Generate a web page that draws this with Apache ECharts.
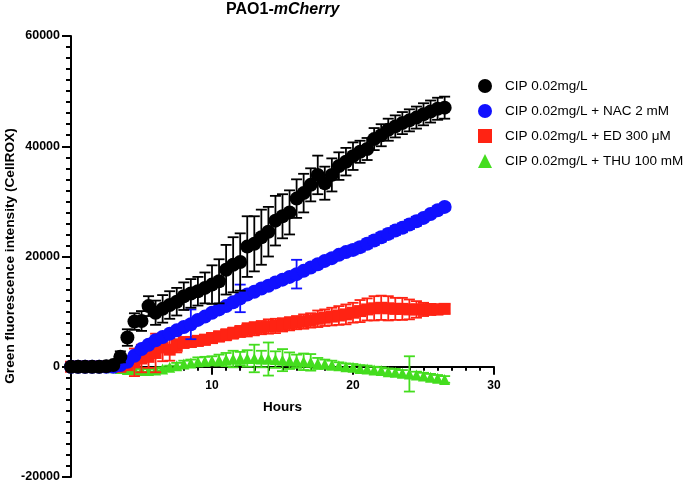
<!DOCTYPE html>
<html><head><meta charset="utf-8">
<script src="https://cdn.jsdelivr.net/npm/echarts@6/dist/echarts.min.js"></script>
<style>html,body{margin:0;padding:0;background:#fff}#c{width:685px;height:484px}</style>
</head><body><div id="c"></div>
<script>
const hours = [0,0.5,1,1.5,2,2.5,3,3.5,4,4.5,5,5.5,6,6.5,7,7.5,8,8.5,9,9.5,10,10.5,11,11.5,12,12.5,13,13.5,14,14.5,15,15.5,16,16.5,17,17.5,18,18.5,19,19.5,20,20.5,21,21.5,22,22.5,23,23.5,24,24.5,25,25.5,26,26.5];
const seriesNames = ['CIP 0.02mg/L','CIP 0.02mg/L + NAC 2 mM','CIP 0.02mg/L + ED 300 \u03bcM','CIP 0.02mg/L + THU 100 mM'];
const cip = [0,0,0,0,0,100,300,1800,5300,8200, 8300,11000,9800,10500,11200,11800,12800,13300,13700,14300, 14900,15500,17600,18500,19000,21800,22300,23500,24500,26500, 27300,28000,30500,31500,33000,34800,33300,34800,36400,37200, 38200,39000,39500,41300,42000,43000,43600,44200,44700,45200, 45800,46300,46800,47000];
const cipErr = [300,300,300,300,300,300,500,1000,1500,1500, 1800,1800,2200,2500,2500,2500,2500,2600,2600,2800, 3500,4000,4500,5000,5200,5500,5000,5000,4500,4500, 4000,4000,3500,3500,3000,3500,3000,3000,2500,2500, 2500,2000,2000,2000,2000,2000,2000,2000,2000,2000, 2000,2000,2000,2000];
const nac = [0,0,0,0,0,0,0,300,900,2000, 3200,4000,4800,5400,6000,6600,7200,7700,8500,9100, 9800,10400,11000,11700,12400,13100,13600,14200,14700,15300, 15800,16300,16800,17400,18000,18600,19200,19700,20300,20800, 21200,21700,22300,22900,23500,24100,24700,25200,25800,26400, 27000,27700,28400,29000];
const nacErr = [100,100,100,100,100,100,200,300,500,500, 500,500,500,500,500,500,500,2700,600,600, 600,600,600,600,2500,600,600,600,600,600, 600,600,2600,600,600,600,600,600,600,600, 800,800,800,800,800,800,800,800,800,800, 600,600,600,600];
const ed = [0,0,0,0,0,0,0,0,300,800, 1500,1800,2500,3500,3100,3800,4400,4500,4700,4900, 5200,5500,5800,6100,6400,6700,6900,7100,7300,7400, 7600,7800,8000,8200,8400,8700,8900,9100,9300,9500, 9800,10100,10400,10600,10700,10600,10500,10500,10400,10400, 10400,10400,10400,10500];
const edErr = [200,200,200,200,200,200,200,300,800,2500, 2500,2000,3500,2500,2000,1200,1000,900,900,900, 900,900,1000,1000,1000,1200,1200,1200,1300,1300, 1200,1200,1200,1300,1300,1500,1500,1600,1700,1800, 1800,2000,2000,2200,2200,2200,2000,2000,1800,1500, 1200,1000,900,800];
const thu = [0,0,0,0,0,-100,-200,-300,-500,-600, -700,-700,-600,-400,-100,200,500,700,900,1000, 1100,1200,1300,1400,1500,1500,1500,1400,1400,1300, 1200,1100,1000,900,800,600,500,300,200,0, -100,-300,-400,-600,-700,-900,-1000,-1200,-1300,-1500, -1700,-1900,-2100,-2300];
const thuErr = [100,100,100,100,100,200,200,300,300,300, 300,300,300,300,300,500,600,600,800,800, 800,1000,1200,1500,1200,1500,2500,1500,3000,1500, 2000,1500,1200,1500,1500,1000,800,800,600,600, 600,600,600,600,600,600,600,600,3200,600, 600,600,600,600];
const yTicks = [-20000,0,20000,40000,60000];
const xTicks = [0,10,20,30];

const colors = ['#000000','#1010ff','#ff2313','#44dd1e'];
const symbols = ['circle','circle','rect','triangle'];
const sizes = [14,14,12,11];
const values = [cip,nac,ed,thu];
const errs = [cipErr,nacErr,edErr,thuErr];
const FONT = '"Liberation Sans", Arial, sans-serif';

function errRender(color){
  return function(params, api){
    const x = api.value(0), y = api.value(1), e = api.value(2);
    const t = api.coord([x, y + e]), b = api.coord([x, y - e]);
    const w = 5.5;
    const st = {stroke: color, lineWidth: 1.8};
    return {type:'group', children:[
      {type:'line', shape:{x1:t[0],y1:t[1],x2:b[0],y2:b[1]}, style:st},
      {type:'line', shape:{x1:t[0]-w,y1:t[1],x2:t[0]+w,y2:t[1]}, style:st},
      {type:'line', shape:{x1:b[0]-w,y1:b[1],x2:b[0]+w,y2:b[1]}, style:st}
    ]};
  };
}

const series = [];
const order = [3,2,1,0];
order.forEach((i, k) => {
  series.push({
    type:'custom', name: seriesNames[i] + ' err', renderItem: errRender(colors[i]),
    data: hours.map((h, j) => [h, values[i][j], errs[i][j]]),
    encode:{x:0, y:1}, z: 2 + k*2, silent:true
  });
  series.push({
    type:'scatter', name: seriesNames[i], symbol: symbols[i], symbolSize: sizes[i],
    itemStyle:{color: colors[i], opacity:1},
    data: hours.map((h, j) => [h, values[i][j]]), z: 3 + k*2, silent:true
  });
});

const Y0 = yTicks[0], Y1 = yTicks[yTicks.length-1];
const gridTop = 36, gridBottom = 7, H = 484;
const plotH = H - gridTop - gridBottom;
// shift the x axis up to the y=0 line
const xOffset = -plotH * (0 - Y0) / (Y1 - Y0);

const chart = echarts.init(document.getElementById('c'), null, {renderer:'canvas'});
chart.setOption({
  animation:false,
  backgroundColor:'#fff',
  title:{
    text:'{a|PAO1-}{b|mCherry}', left:221, top:-3,
    textStyle:{rich:{
      a:{fontFamily:FONT, fontWeight:'bold', fontSize:16, color:'#000'},
      b:{fontFamily:FONT, fontWeight:'bold', fontStyle:'italic', fontSize:16, color:'#000'}
    }}
  },
  legend:{
    data: seriesNames.map((n,i)=>({name:n, icon: symbols[i]})),
    orient:'vertical', left:473, top:74, itemWidth:14, itemHeight:14, itemGap:11,
    textStyle:{fontFamily:FONT, fontSize:13.5, color:'#000', padding:[0,0,0,8]}
  },
  grid:{left:71, right:191, top:gridTop, bottom:gridBottom, containLabel:false, outerBoundsMode:'none'},
  xAxis:{
    type:'value', min:xTicks[0], max:xTicks[xTicks.length-1], interval:10,
    position:'bottom', offset: xOffset,
    name:'Hours', nameLocation:'middle', nameGap:34,
    nameTextStyle:{fontFamily:FONT, fontWeight:'bold', fontSize:13.5, color:'#000'},
    axisLine:{onZero:false, lineStyle:{color:'#000', width:2}},
    axisTick:{length:8, lineStyle:{color:'#000', width:2}},
    minorTick:{show:true, splitNumber:10, length:4, lineStyle:{color:'#000', width:2}},
    axisLabel:{fontFamily:FONT, fontWeight:'bold', fontSize:12, color:'#000', margin:13,
      formatter: v => (v === 0 ? '' : String(v))},
    splitLine:{show:false}
  },
  yAxis:{
    type:'value', min:Y0, max:Y1, interval:20000,
    axisLine:{show:true, onZero:false, lineStyle:{color:'#000', width:2}},
    axisTick:{show:true, length:9, lineStyle:{color:'#000', width:2}},
    minorTick:{show:true, splitNumber:10, length:5, lineStyle:{color:'#000', width:2}},
    axisLabel:{fontFamily:FONT, fontWeight:'bold', fontSize:12.5, color:'#000', margin:11,
      formatter: v => String(v)},
    splitLine:{show:false}
  },
  graphic:[{
    type:'text', x:10, y:256, rotation:Math.PI/2,
    style:{text:'Green fluorescence intensity (CellROX)', fontFamily:FONT, fontWeight:'bold', fontSize:13.7,
      fill:'#000', align:'center', verticalAlign:'middle'}
  }],
  series: series
});
</script></body></html>
